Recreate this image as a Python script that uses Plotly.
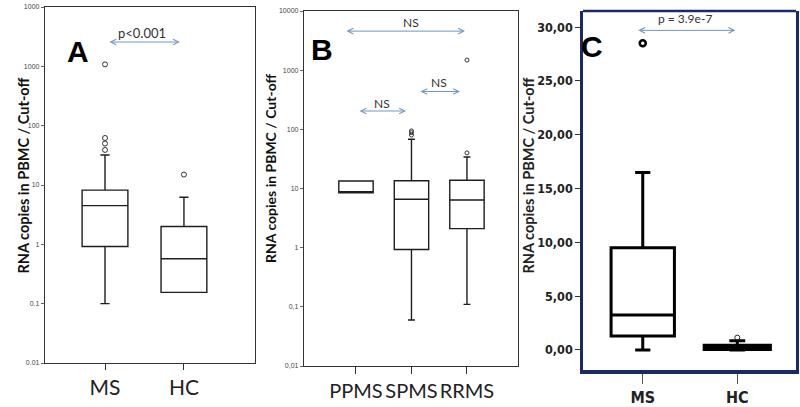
import plotly.graph_objects as go

# ---------------- data ----------------
# Panel A (log scale)
a_groups = ["MS", "HC"]
a_q1 = [0.92, 0.155]
a_median = [4.5, 0.57]
a_q3 = [8.2, 2.0]
a_low = [0.1, 0.155]
a_high = [32, 6.2]
a_out_ms = [39, 50, 62, 1080]
a_out_hc = [15]
a_yticks = [0.01, 0.1, 1, 10, 100, 1000, 10000]
a_yticklabels = ["0.01", "0.1", "1", "10", "100", "1000", "1000"]

# Panel B (log scale)
b_groups = ["PPMS", "SPMS", "RRMS"]
b_q1 = [8.5, 0.93, 2.1]
b_median = [8.5, 6.6, 6.4]
b_q3 = [13.4, 13.5, 13.8]
b_low = [8.5, 0.06, 0.11]
b_high = [13.4, 68, 34]
b_out_spms = [80, 88, 94]
b_out_rrms = [40, 1480]
b_yticks = [0.01, 0.1, 1, 10, 100, 1000, 10000]
b_yticklabels = ["0,01", "0,1", "1", "10", "100", "1000", "10000"]

# Panel C (linear scale)
c_groups = ["MS", "HC"]
c_q1 = [1.3, 0.05]
c_median = [3.25, 0.25]
c_q3 = [9.5, 0.45]
c_low = [0.0, 0.0]
c_high = [16.5, 0.85]
c_out_ms = [28.5]
c_out_hc = [1.15]
c_yticks = [0, 5, 10, 15, 20, 25, 30]
c_yticklabels = ["0,00", "5,00", "10,00", "15,00", "20,00", "25,00", "30,00"]

ytitle = "RNA copies in PBMC / Cut-off"

# ---------------- figure ----------------
W, H = 800, 407
fig = go.Figure()

def px_x(p):
    return p / W

def px_y(p):
    return 1 - p / H

INK = "#1e1e1e"
NAVY = "#1b2a66"
ARROW = "#7096c4"

# Panel A boxes
for i, g in enumerate(a_groups):
    fig.add_trace(go.Box(
        x=[g], q1=[a_q1[i]], median=[a_median[i]], q3=[a_q3[i]],
        lowerfence=[a_low[i]], upperfence=[a_high[i]],
        boxpoints=False, fillcolor="white", line=dict(color=INK, width=1.4),
        whiskerwidth=0.2, width=0.58, xaxis="x", yaxis="y",
        showlegend=False, hoverinfo="skip"))
fig.add_trace(go.Scatter(x=["MS"] * len(a_out_ms), y=a_out_ms, mode="markers",
                         marker=dict(symbol="circle-open", size=5, color="#333",
                                     line=dict(width=1)),
                         xaxis="x", yaxis="y", showlegend=False, hoverinfo="skip"))
fig.add_trace(go.Scatter(x=["HC"] * len(a_out_hc), y=a_out_hc, mode="markers",
                         marker=dict(symbol="circle-open", size=5, color="#333",
                                     line=dict(width=1)),
                         xaxis="x", yaxis="y", showlegend=False, hoverinfo="skip"))

# Panel B boxes
for i, g in enumerate(b_groups):
    fig.add_trace(go.Box(
        x=[g], q1=[b_q1[i]], median=[b_median[i]], q3=[b_q3[i]],
        lowerfence=[b_low[i]], upperfence=[b_high[i]],
        boxpoints=False, fillcolor="white", line=dict(color=INK, width=1.4),
        whiskerwidth=0.2, width=0.62, xaxis="x2", yaxis="y2",
        showlegend=False, hoverinfo="skip"))
fig.add_trace(go.Scatter(x=["SPMS"] * len(b_out_spms), y=b_out_spms, mode="markers",
                         marker=dict(symbol="circle-open", size=4, color="#333",
                                     line=dict(width=1)),
                         xaxis="x2", yaxis="y2", showlegend=False, hoverinfo="skip"))
fig.add_trace(go.Scatter(x=["RRMS"] * len(b_out_rrms), y=b_out_rrms, mode="markers",
                         marker=dict(symbol="circle-open", size=4, color="#333",
                                     line=dict(width=1)),
                         xaxis="x2", yaxis="y2", showlegend=False, hoverinfo="skip"))

# Panel C boxes
c_widths = [0.67, 0.7]
for i, g in enumerate(c_groups):
    fig.add_trace(go.Box(
        x=[g], q1=[c_q1[i]], median=[c_median[i]], q3=[c_q3[i]],
        lowerfence=[c_low[i]], upperfence=[c_high[i]],
        boxpoints=False, fillcolor="white", line=dict(color="black", width=3),
        whiskerwidth=0.24, width=c_widths[i], xaxis="x3", yaxis="y3",
        showlegend=False, hoverinfo="skip"))
fig.add_trace(go.Scatter(x=["MS"] * len(c_out_ms), y=c_out_ms, mode="markers",
                         marker=dict(symbol="circle-open", size=6, color="black",
                                     line=dict(width=2.5)),
                         xaxis="x3", yaxis="y3", showlegend=False, hoverinfo="skip"))
fig.add_trace(go.Scatter(x=["HC"] * len(c_out_hc), y=c_out_hc, mode="markers",
                         marker=dict(symbol="circle-open", size=5, color="#222",
                                     line=dict(width=1)),
                         xaxis="x3", yaxis="y3", showlegend=False, hoverinfo="skip"))

small_tick = dict(family="Arial, Liberation Sans, sans-serif", size=7, color="#444")
big_cat = dict(family="Lato, Carlito, sans-serif", size=21, color="#222")
narrow_bold = "DejaVu Sans Condensed"

fig.update_layout(
    width=W, height=H,
    margin=dict(l=0, r=0, t=0, b=0, pad=0, autoexpand=False),
    paper_bgcolor="white", plot_bgcolor="white",
    showlegend=False,
    # Panel A
    xaxis=dict(domain=[px_x(45), px_x(255)], type="category", automargin=False,
               categoryorder="array", categoryarray=a_groups,
               range=[-0.76, 1.90], showline=True, linecolor="#333", linewidth=1.3,
               mirror=True, ticks="outside", ticklen=6, tickcolor="#333",
               tickfont=big_cat, showgrid=False, zeroline=False, ticklabelstandoff=0,
               tickangle=0),
    yaxis=dict(domain=[px_y(363), px_y(7)], type="log", range=[-2, 4], automargin=False,
               tickvals=a_yticks, ticktext=a_yticklabels, tickfont=small_tick,
               showline=True, linecolor="#333", linewidth=1.3, mirror=True,
               ticks="outside", ticklen=3, tickcolor="#666",
               showgrid=False, zeroline=False),
    # Panel B
    xaxis2=dict(domain=[px_x(304), px_x(518)], type="category", automargin=False,
                categoryorder="array", categoryarray=b_groups,
                range=[-0.937, 2.92], showline=True, linecolor="#333", linewidth=1.3,
                mirror=True, ticks="outside", ticklen=7, tickcolor="#333",
                tickfont=dict(family="Lato, Carlito, sans-serif", size=20, color="#222"),
                showgrid=False, zeroline=False, anchor="y2",
                ticklabelstandoff=0, tickangle=0),
    yaxis2=dict(domain=[px_y(366), px_y(11)], type="log", range=[-2, 4], automargin=False,
                tickvals=b_yticks, ticktext=b_yticklabels, tickfont=small_tick,
                showline=True, linecolor="#333", linewidth=1.3, mirror=True,
                ticks="outside", ticklen=3, tickcolor="#666",
                showgrid=False, zeroline=False, anchor="x2"),
    # Panel C
    xaxis3=dict(domain=[px_x(583), px_x(796)], type="category", automargin=False,
                categoryorder="array", categoryarray=c_groups,
                range=[-0.632, 1.621], showline=True, linecolor=NAVY, linewidth=4,
                mirror=False, ticks="outside", ticklen=10, tickcolor="#555",
                tickwidth=1, tickangle=0,
                tickfont=dict(family=narrow_bold, size=16, color="#222", weight="bold"),
                showgrid=False, zeroline=False, anchor="y3", ticklabelstandoff=0),
    yaxis3=dict(domain=[px_y(370), px_y(11)], range=[-1.86, 31.5], automargin=False,
                tickvals=c_yticks, ticktext=c_yticklabels,
                tickfont=dict(family=narrow_bold, size=12.5, color="#222", weight="bold"),
                showline=True, linecolor=NAVY, linewidth=2.5, mirror=True,
                ticks="outside", ticklen=5, tickcolor="#333",
                showgrid=False, zeroline=False, anchor="x3"),
)

# top border of panel C
fig.add_shape(type="line", xref="x3 domain", yref="y3 domain", x0=0, x1=1, y0=1, y1=1,
              line=dict(color=NAVY, width=2.5))

ann = []
# panel letters
for txt, x, y in [("A", 65, 33), ("B", 322, 31), ("C", 605, 28)]:
    ann.append(dict(text=f"<b>{txt}</b>", x=px_x(x), y=px_y(y), xref="paper", yref="paper",
                    showarrow=False, font=dict(family="Arial, Liberation Sans, sans-serif",
                                               size=30, color="black")))
# y titles
ann.append(dict(text=f"<b>{ytitle}</b>", x=px_x(12), y=px_y(176), xref="paper", yref="paper",
                textangle=-90, showarrow=False,
                font=dict(family="Lato, Open Sans, sans-serif", size=14.5, color="#111")))
ann.append(dict(text=f"<b>{ytitle}</b>", x=px_x(270), y=px_y(168), xref="paper", yref="paper",
                textangle=-90, showarrow=False,
                font=dict(family="Lato, Open Sans, sans-serif", size=14, color="#111")))
ann.append(dict(text=f"<b>{ytitle}</b>", x=px_x(538), y=px_y(176), xref="paper", yref="paper",
                textangle=-90, showarrow=False,
                font=dict(family="Lato, Open Sans, sans-serif", size=14.5, color="#222")))

def dbl_arrow(xr, yr, x0, x1, y):
    return dict(x=x1, y=y, ax=x0, ay=y, xref=xr, yref=yr, axref=xr, ayref=yr,
                text="", showarrow=True, arrowhead=5, startarrowhead=5,
                arrowside="end+start", arrowsize=1.1, startarrowsize=1.1,
                arrowwidth=1, arrowcolor=ARROW)

def label(xr, yr, x, y, t, size=12):
    return dict(x=x, y=y, xref=xr, yref=yr, text=t, showarrow=False,
                font=dict(family="Lato, Open Sans, sans-serif", size=size, color="#333"))

# Panel A significance
ann.append(dbl_arrow("x", "y", 0.037, 0.949, 3.41))
ann.append(label("x", "y", 0.468, 3.56, "p<0.001", 13))
# Panel B significance
ann.append(dbl_arrow("x2", "y2", -0.198, 1.964, 3.66))
ann.append(label("x2", "y2", 1.0, 3.80, "NS", 12))
ann.append(dbl_arrow("x2", "y2", 0.036, 0.901, 2.31))
ann.append(label("x2", "y2", 0.47, 2.43, "NS", 12))
ann.append(dbl_arrow("x2", "y2", 1.135, 1.874, 2.64))
ann.append(label("x2", "y2", 1.50, 2.79, "NS", 12))
# Panel C significance
ann.append(dbl_arrow("x3", "y3", -0.063, 0.979, 29.7))
ann.append(label("x3", "y3", 0.45, 30.8, "p = 3.9e-7", 12))

fig.update_layout(annotations=ann)
fig.write_html("out.html", config={"displayModeBar": False},
               post_script="document.body.style.margin='0';document.body.style.overflow='hidden';")
